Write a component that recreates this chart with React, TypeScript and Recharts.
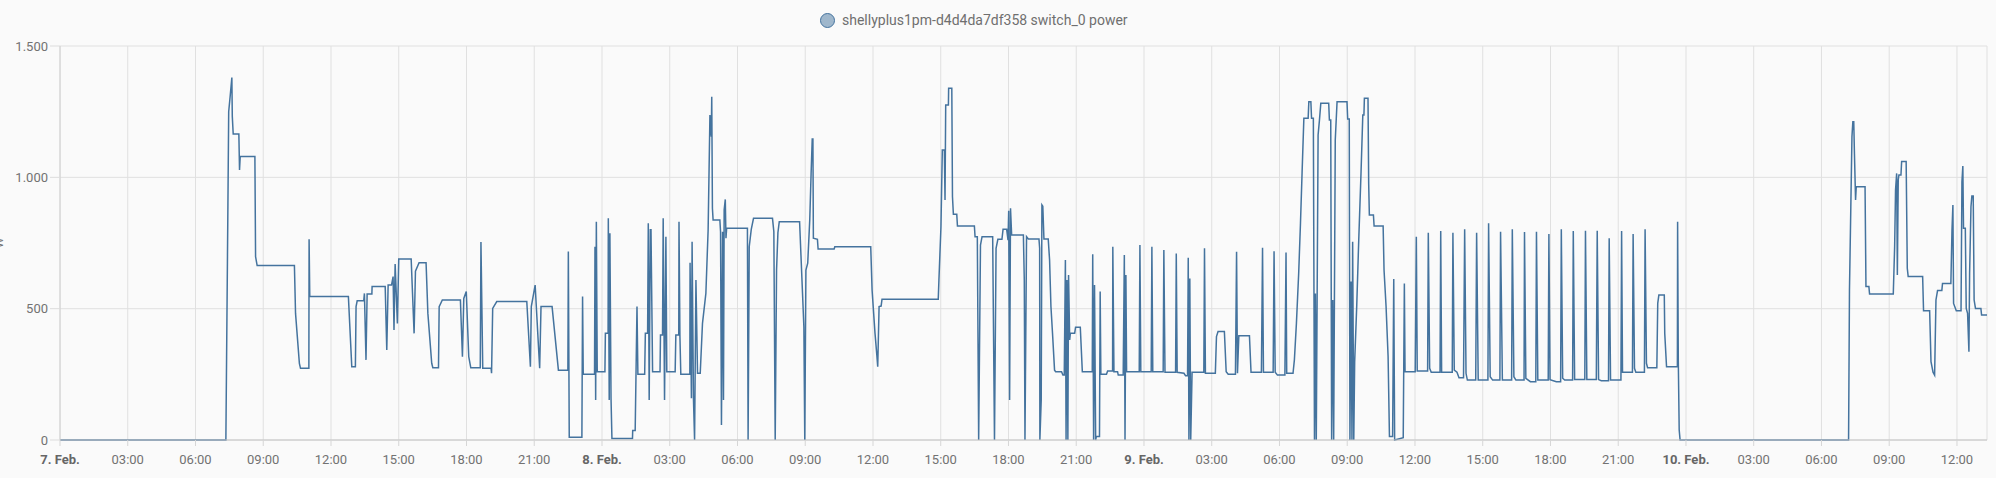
import React from 'react';
import { LineChart, Line, XAxis, YAxis, CartesianGrid, Label } from 'recharts';

// [hour of day, watts], one list per day
const feb7: [number, number][] = [
  [0, 0], [7.345, 0], [7.43, 838], [7.47, 1250], [7.54, 1313], [7.61, 1380], [7.63, 1231], [7.67, 1165],
  [7.92, 1165], [7.95, 1028], [7.98, 1079], [8.63, 1079], [8.66, 698], [8.73, 664], [10.38, 664], [10.43, 482],
  [10.6, 292], [10.65, 273], [11.02, 273], [11.03, 764], [11.06, 546], [12.77, 546], [12.92, 279], [13.08, 279],
  [13.11, 508], [13.16, 530], [13.45, 530], [13.48, 558], [13.55, 305], [13.6, 556], [13.81, 556], [13.82, 584],
  [14.4, 584], [14.47, 343], [14.53, 590], [14.68, 590], [14.75, 622], [14.79, 419], [14.84, 670], [14.94, 444],
  [15.0, 689], [15.55, 689], [15.68, 406], [15.74, 643], [15.9, 675], [16.21, 675], [16.29, 482], [16.46, 292],
  [16.51, 275], [16.76, 275], [16.79, 508], [16.93, 533], [17.73, 533], [17.82, 317], [17.88, 539], [17.99, 565],
  [18.1, 317], [18.19, 275], [18.61, 275], [18.64, 754], [18.72, 273], [19.09, 273], [19.11, 254], [19.16, 501],
  [19.34, 527], [20.67, 527], [20.83, 279], [20.87, 508], [21.04, 590], [21.24, 273], [21.3, 508], [21.79, 508],
  [22.07, 266], [22.49, 266], [22.51, 718], [22.55, 10], [23.11, 10], [23.14, 546], [23.17, 250], [23.67, 250],
  [23.69, 736], [23.72, 152], [23.75, 831], [23.79, 260],
];

const feb8: [number, number][] = [
  [0.13, 260], [0.15, 406], [0.27, 406], [0.28, 844], [0.32, 152], [0.35, 787], [0.4, 159], [0.44, 6],
  [1.35, 6], [1.36, 36], [1.47, 36], [1.55, 508], [1.59, 250], [1.89, 250], [1.92, 406], [2.02, 406],
  [2.05, 825], [2.09, 152], [2.14, 800], [2.17, 800], [2.24, 260], [2.57, 260], [2.59, 400], [2.68, 400],
  [2.71, 844], [2.77, 152], [2.83, 774], [2.87, 260], [3.24, 260], [3.27, 400], [3.4, 400], [3.41, 831],
  [3.45, 400], [3.49, 250], [3.89, 250], [3.9, 675], [3.96, 159], [3.99, 755], [4.05, 159], [4.1, 0],
  [4.16, 609], [4.23, 254], [4.35, 254], [4.45, 444], [4.6, 558], [4.7, 800], [4.78, 1237], [4.84, 1155],
  [4.86, 1307], [4.89, 882], [4.92, 838], [5.22, 838], [5.25, 793], [5.29, 57], [5.34, 793], [5.38, 152],
  [5.41, 876], [5.46, 916], [5.49, 768], [5.52, 806], [6.44, 806], [6.47, 0], [6.52, 736], [6.61, 802],
  [6.71, 844], [7.55, 844], [7.61, 793], [7.67, 0], [7.73, 647], [7.79, 789], [7.85, 831], [8.75, 831],
  [8.88, 558], [8.94, 431], [8.98, 0], [9.03, 647], [9.11, 673], [9.2, 838], [9.26, 1015], [9.31, 1146],
  [9.34, 1146], [9.36, 768], [9.54, 764], [9.57, 727], [10.28, 727], [10.31, 736], [11.9, 736], [11.96, 571],
  [12.09, 406], [12.17, 324], [12.21, 279], [12.27, 508], [12.36, 510], [12.4, 536], [14.89, 536], [14.92, 609],
  [15.01, 812], [15.07, 1104], [15.16, 1104], [15.19, 914], [15.22, 1275], [15.34, 1275], [15.35, 1339], [15.49, 1339],
  [15.52, 926], [15.56, 859], [15.71, 859], [15.74, 815], [16.49, 815], [16.52, 774], [16.62, 774], [16.68, 0],
  [16.76, 742], [16.83, 774], [17.3, 774], [17.38, 0], [17.45, 730], [17.53, 764], [17.71, 764], [17.76, 802],
  [17.92, 802], [17.98, 761], [18.01, 873], [18.05, 152], [18.09, 882], [18.14, 780], [18.66, 780], [18.7, 609],
  [18.73, 0], [18.8, 774], [18.88, 765], [19.35, 765], [19.38, 730], [19.39, 0], [19.45, 152], [19.48, 895],
  [19.52, 890], [19.57, 765], [19.76, 765], [19.82, 685], [19.88, 508], [19.95, 406], [20.04, 266], [20.09, 260],
  [20.35, 260], [20.41, 247], [20.47, 247], [20.52, 685], [20.55, 0], [20.59, 609], [20.63, 0], [20.66, 628],
  [20.71, 381], [20.74, 406], [20.93, 406], [20.97, 429], [21.18, 429], [21.27, 260], [21.71, 260], [21.73, 707],
  [21.77, 0], [21.81, 590], [21.86, 0], [21.89, 13], [22.03, 13], [22.06, 565], [22.09, 250], [22.34, 250],
  [22.39, 263], [22.61, 263], [22.62, 736], [22.67, 260], [22.83, 260], [22.86, 247], [23.08, 247], [23.13, 704],
  [23.16, 0], [23.2, 628], [23.23, 260], [23.79, 260], [23.82, 742], [23.86, 260],
];

const feb9: [number, number][] = [
  [0.32, 260], [0.35, 736], [0.39, 260], [0.85, 260], [0.88, 723], [0.93, 258], [1.4, 258], [1.43, 710],
  [1.47, 258], [1.77, 254], [1.84, 245], [1.93, 245], [1.96, 694], [1.99, 0], [2.03, 615], [2.07, 0],
  [2.13, 258], [2.65, 258], [2.68, 730], [2.72, 254], [3.16, 254], [3.21, 394], [3.28, 413], [3.56, 413],
  [3.64, 260], [3.73, 250], [4.05, 250], [4.1, 717], [4.14, 254], [4.2, 397], [4.67, 397], [4.74, 258],
  [5.2, 258], [5.25, 732], [5.29, 258], [5.72, 258], [5.76, 719], [5.81, 258], [5.91, 247], [6.24, 247],
  [6.29, 714], [6.32, 254], [6.6, 254], [6.66, 305], [6.75, 444], [6.85, 634], [6.93, 825], [7.0, 1015],
  [7.08, 1225], [7.27, 1225], [7.3, 1288], [7.39, 1288], [7.42, 1225], [7.5, 1225], [7.55, 0], [7.59, 558],
  [7.63, 0], [7.71, 1161], [7.77, 1218], [7.83, 1282], [8.18, 1282], [8.21, 1218], [8.27, 1218], [8.31, 0],
  [8.36, 533], [8.4, 0], [8.47, 1142], [8.55, 1288], [8.99, 1288], [9.02, 1222], [9.09, 1222], [9.12, 0],
  [9.17, 603], [9.21, 0], [9.24, 755], [9.29, 0], [9.33, 298], [9.42, 508], [9.51, 761], [9.61, 1015],
  [9.69, 1237], [9.74, 1237], [9.76, 1301], [9.92, 1301], [9.95, 977], [9.98, 857], [10.16, 857], [10.19, 815],
  [10.59, 815], [10.63, 647], [10.72, 508], [10.81, 317], [10.87, 13], [11.01, 13], [11.06, 613], [11.1, 0],
  [11.48, 9], [11.53, 596], [11.56, 260], [12.01, 260], [12.06, 774], [12.1, 263], [12.56, 263], [12.59, 789],
  [12.65, 273], [12.72, 258], [13.11, 258], [13.14, 796], [13.18, 258], [13.65, 258], [13.68, 789], [13.74, 266],
  [13.86, 258], [13.95, 237], [14.15, 237], [14.2, 802], [14.26, 254], [14.32, 228], [14.69, 228], [14.73, 789],
  [14.8, 228], [15.23, 228], [15.26, 825], [15.33, 241], [15.44, 228], [15.76, 228], [15.79, 793], [15.87, 228],
  [16.28, 228], [16.31, 802], [16.38, 241], [16.47, 228], [16.83, 228], [16.85, 792], [16.91, 235], [17.11, 222],
  [17.35, 222], [17.38, 793], [17.44, 228], [17.9, 228], [17.93, 784], [17.98, 230], [18.26, 222], [18.45, 222],
  [18.48, 802], [18.54, 235], [18.63, 228], [18.98, 228], [19.01, 796], [19.07, 230], [19.52, 230], [19.55, 797],
  [19.61, 230], [20.03, 230], [20.07, 797], [20.13, 230], [20.25, 226], [20.57, 226], [20.6, 768], [20.66, 228],
  [21.12, 228], [21.15, 796], [21.19, 258], [21.63, 258], [21.66, 784], [21.72, 273], [21.78, 258], [22.16, 258],
  [22.19, 802], [22.25, 292], [22.3, 275], [22.71, 275], [22.75, 520], [22.8, 552], [23.04, 552], [23.06, 406],
  [23.14, 279], [23.62, 279], [23.63, 831], [23.66, 305], [23.7, 38], [23.74, 0],
];

const feb10: [number, number][] = [
  [7.2, 0], [7.24, 571], [7.3, 888], [7.35, 1155], [7.39, 1212], [7.43, 1212], [7.46, 1091], [7.51, 914],
  [7.54, 964], [7.93, 964], [7.97, 584], [8.1, 584], [8.13, 556], [9.18, 556], [9.24, 736], [9.28, 952],
  [9.33, 1015], [9.36, 628], [9.4, 990], [9.43, 1009], [9.52, 1009], [9.55, 1060], [9.75, 1060], [9.8, 654],
  [9.84, 622], [10.48, 622], [10.52, 492], [10.79, 492], [10.85, 298], [10.94, 258], [11.01, 247], [11.07, 533],
  [11.14, 569], [11.33, 569], [11.36, 596], [11.73, 596], [11.78, 800], [11.82, 895], [11.85, 520], [11.97, 492],
  [12.18, 492], [12.22, 983], [12.26, 1043], [12.29, 806], [12.37, 806], [12.41, 501], [12.47, 482], [12.53, 336],
  [12.56, 634], [12.62, 888], [12.66, 929], [12.72, 929], [12.76, 533], [12.82, 501], [13.06, 501], [13.09, 476],
  [13.33, 476],
];

const days = [feb7, feb8, feb9, feb10];
const dayLabels = ['7. Feb.', '8. Feb.', '9. Feb.', '10. Feb.'];
const xTicks = [0, 3, 6, 9, 12, 15, 18, 21, 24, 27, 30, 33, 36, 39, 42, 45, 48, 51, 54, 57, 60, 63, 66, 69, 72, 75, 78, 81, 84];
const yTicks = [0, 500, 1000, 1500];
const seriesName = 'shellyplus1pm-d4d4da7df358 switch_0 power';

const data = days.flatMap((d, i) => d.map(([h, w]) => ({ t: i * 24 + h, w })));

const LINE = '#44739e';
const TEXT = '#727272';

const fmtY = (v: number) => String(v).replace(/\B(?=(\d{3})+(?!\d))/g, '.');

const TimeTick: React.FC<any> = ({ x, y, payload }) => {
  const t = payload.value as number;
  const isDay = t % 24 === 0;
  const label = isDay ? dayLabels[t / 24] : `${String(t % 24).padStart(2, '0')}:00`;
  return (
    <text x={x} y={y} dy="0.71em" textAnchor="middle" fill={isDay ? '#666' : TEXT}
      fontSize={13} fontWeight={isDay ? 700 : 400} fontFamily="Roboto">
      {label}
    </text>
  );
};

export default function App() {
  return (
    <div style={{ position: 'fixed', left: 0, top: 0, width: 1996, height: 478, background: '#fafafa', fontFamily: 'Roboto' }}>
      <div style={{ position: 'absolute', left: 820, top: 12, display: 'flex', alignItems: 'center', color: '#6f6f6f', fontSize: 14, whiteSpace: 'nowrap' }}>
        <span style={{ width: 13, height: 13, borderRadius: '50%', background: 'rgba(68,115,158,0.5)', border: `1.5px solid ${LINE}`, marginRight: 7 }} />
        {seriesName}
      </div>
      <LineChart width={1996} height={478} data={data} margin={{ top: 46, right: 9, left: 0, bottom: 8 }}>
        <CartesianGrid stroke="#e0e0e0" ticks={xTicks as any} />
        <XAxis dataKey="t" type="number" domain={[0, 85.33]} ticks={xTicks} allowDataOverflow
          height={30} tickSize={6} tickMargin={9} stroke="#c4c4c4" tickLine={{ stroke: '#d6d6d6' }}
          tick={<TimeTick />} interval={0} />
        <YAxis type="number" domain={[0, 1500]} ticks={yTicks} width={60} tickSize={10} tickMargin={2}
          stroke="#d0d0d0" tickLine={{ stroke: '#dcdcdc' }} tickFormatter={fmtY}
          tick={{ fill: TEXT, fontSize: 13, fontFamily: 'Roboto' }}>
          <Label value="W" angle={-90} position="insideLeft" offset={-1}
            style={{ textAnchor: 'middle', fill: TEXT, fontSize: 12, fontFamily: 'Roboto' }} />
        </YAxis>
        <Line type="linear" dataKey="w" name={seriesName} stroke={LINE} strokeWidth={1.5}
          dot={false} isAnimationActive={false} />
      </LineChart>
    </div>
  );
}
